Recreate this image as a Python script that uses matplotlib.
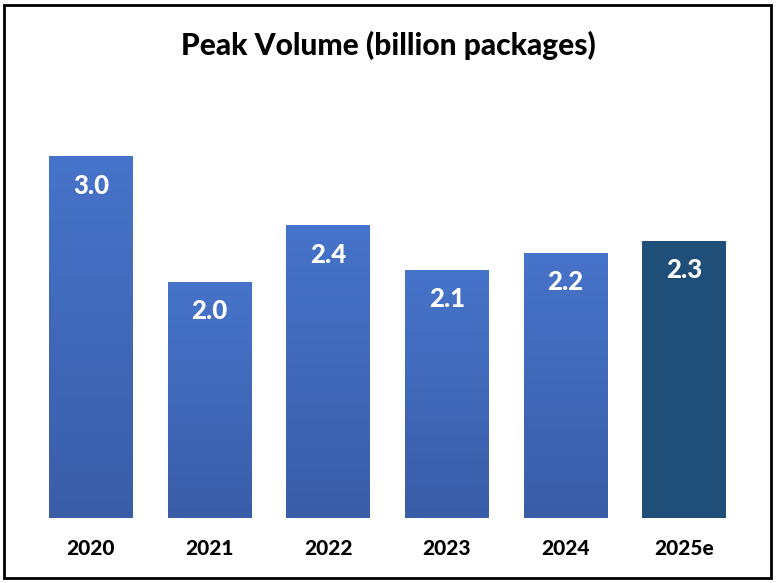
import numpy as np
import matplotlib
matplotlib.use("Agg")
import matplotlib.pyplot as plt
from matplotlib.colors import LinearSegmentedColormap
from matplotlib.patches import Rectangle

years = ["2020", "2021", "2022", "2023", "2024", "2025e"]
volumes = [3.0, 1.96, 2.43, 2.06, 2.2, 2.3]
labels = ["3.0", "2.0", "2.4", "2.1", "2.2", "2.3"]

plt.rcParams['font.family'] = ['Lato', 'DejaVu Sans']

W, H = 776, 583
fig = plt.figure(figsize=(W/100, H/100), dpi=100)
ax = fig.add_axes([31.6/W, 1-518/H, 712/W, 422/H])
ax.set_xlim(-0.5, 5.5)
ax.set_ylim(0, 3.5)

grad = LinearSegmentedColormap.from_list("g", ["#3A5DA8", "#4674CA"])
x = np.arange(len(years))
bars = ax.bar(x, volumes, width=0.707, color="none", edgecolor="none")
gimg = np.linspace(0, 1, 256).reshape(-1, 1)
for i, (b, v) in enumerate(zip(bars, volumes)):
    if i == len(years) - 1:
        b.set_facecolor("#1F4E79")
    else:
        im = ax.imshow(gimg, cmap=grad, origin="lower", aspect="auto",
                       extent=[b.get_x(), b.get_x()+b.get_width(), 0, v], zorder=1)
        im.set_clip_path(b)
    ax.text(b.get_x()+b.get_width()/2, v - 0.245, labels[i], ha="center", va="center",
            color="white", fontsize=18.5, fontweight="black", zorder=3)

ax.set_xlim(-0.5, 5.5)
ax.set_ylim(0, 3.5)
ax.set_xticks(x)
ax.set_xticklabels(years, fontsize=15, fontweight="black")
ax.tick_params(axis="x", length=0, pad=15)
ax.set_yticks([])
for s in ax.spines.values():
    s.set_visible(False)

fig.text(388/W, 1-45/H, "Peak Volume (billion packages)", ha="center", va="center",
         fontsize=21.5, fontweight="black")
fig.patches.append(Rectangle((4/W, 5/H), 767/W, 573/H, transform=fig.transFigure,
                             fill=False, edgecolor="black", linewidth=2))
fig.savefig("out.png", dpi=100)
